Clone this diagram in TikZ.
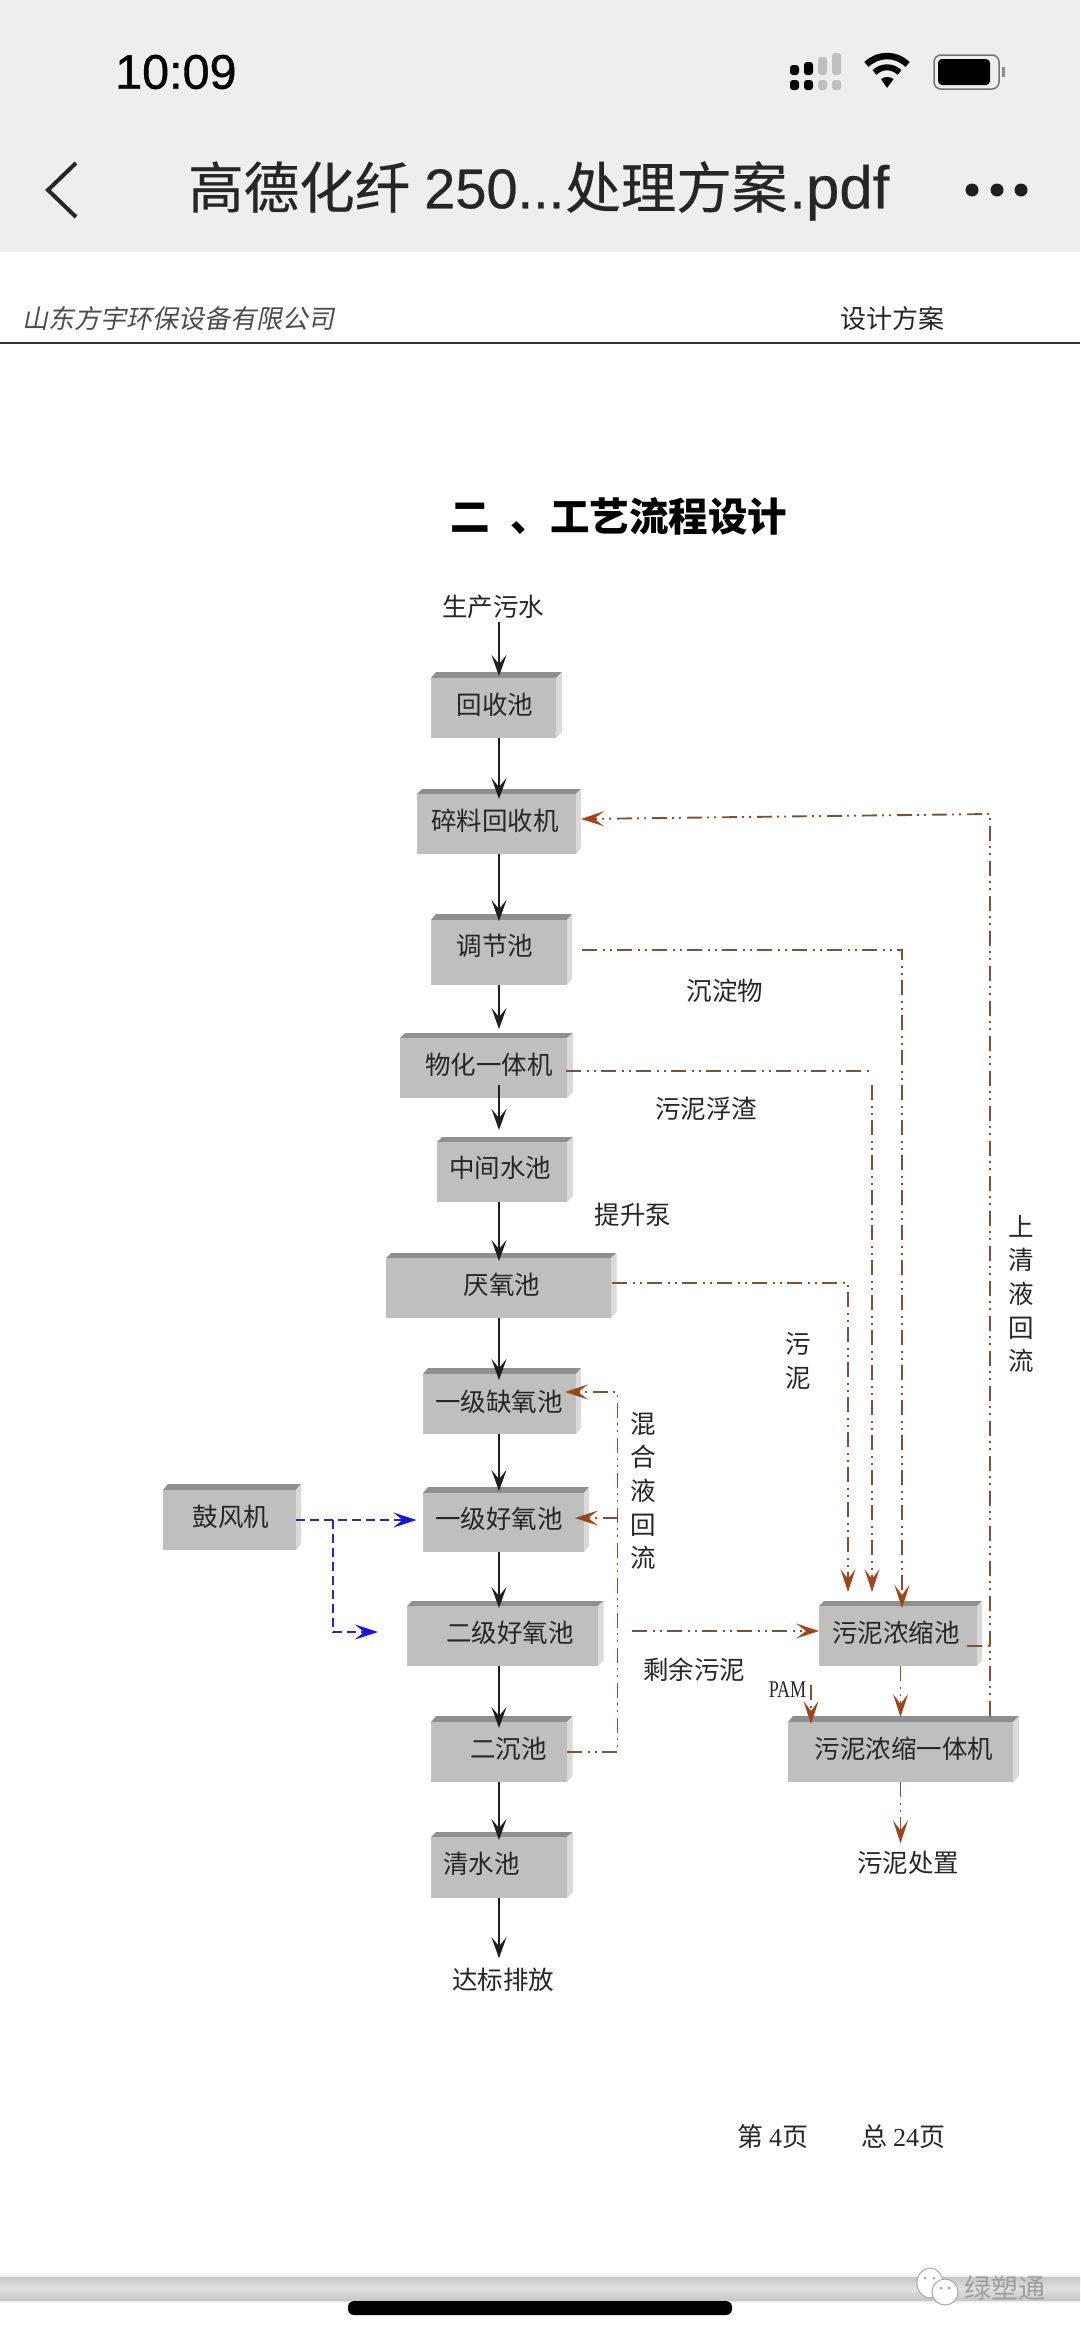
\documentclass[tikz,border=0pt]{standalone}
\usepackage{fontspec}
\usetikzlibrary{arrows.meta,calc}
\setmainfont{Liberation Serif}
\newfontfamily\cjkfont{Noto Sans CJK SC}
\newfontfamily\cjkmedfont[FakeBold=0.4]{Noto Sans CJK SC}
\newfontfamily\cjkslantfont[FakeSlant=0.2]{Noto Sans CJK SC}
\newfontfamily\uifont{Liberation Sans}
\newfontfamily\uimedfont[FakeBold=0.4]{Liberation Sans}
\newfontfamily\clockfont[FakeBold=0.8]{Liberation Sans}
\newfontfamily\pamfont[FakeStretch=0.75]{Liberation Serif}
\definecolor{bandgray}{HTML}{EEEEEE}
\definecolor{inkgray}{HTML}{262626}
\definecolor{frontgray}{HTML}{BFBFBF}
\definecolor{topgray}{HTML}{8F8F8F}
\definecolor{sidegray}{HTML}{DADADA}
\definecolor{brownline}{HTML}{7E5237}
\definecolor{browntip}{HTML}{A0441C}
\definecolor{blueline}{HTML}{2A2AB8}
\definecolor{bluetip}{HTML}{1616E0}
\tikzset{
  tankbox/.style={fill=frontgray,inner sep=0pt,outer sep=0pt,text=inkgray,font={\fontsize{25.5}{30}\selectfont\cjkfont}},
  tanktop/.style={fill=topgray},
  tankside/.style={fill=sidegray},
  plainlabel/.style={inner sep=0pt,outer sep=0pt,text=inkgray,font={\fontsize{25.5}{30}\selectfont\cjkfont}},
  vertlabel/.style={inner sep=0pt,outer sep=0pt,text=inkgray,align=center,font={\fontsize{25.5}{33.7}\selectfont\cjkfont}},
  mainflow/.style={draw=black!88,line width=2pt,-{Stealth[length=21pt,width=15pt,inset=9pt]}},
  brownpath/.style={draw=brownline,line width=1.9pt,dash pattern=on 15pt off 6pt on 2pt off 5pt on 2pt off 5pt},
  brownflow/.style={brownpath,-{Stealth[length=23pt,width=15pt,inset=10pt,color=browntip]}},
  bluepath/.style={draw=blueline,line width=2.2pt,dash pattern=on 9pt off 5pt},
  blueflow/.style={bluepath,-{Stealth[length=23pt,width=15pt,inset=9pt,color=bluetip]}}
}
\newcommand\tank[9]{%
  \fill[tanktop] (#2,#5) -- (#2+5,#3) -- (#7,#3) -- (#4,#5) -- cycle;
  \fill[tankside] (#4,#5) -- (#7,#3) -- (#7,#6-6) -- (#4,#6) -- cycle;
  \def\tname{#1}%
  \pgfmathsetmacro\tw{#4-#2}%
  \pgfmathsetmacro\th{#6-#5}%
  \pgfmathsetmacro\tcx{(#2+#4)/2}%
  \pgfmathsetmacro\tcy{(#5+#6)/2}%
  \pgfmathsetmacro\tdx{2*(#8-\tcx)}%
  \pgfmathsetmacro\tdy{\tcy-#9-9.5}%
  \tankB}
\newcommand\tankB[1]{%
  \node[tankbox,minimum width=\tw pt,minimum height=\th pt] (\tname) at (\tcx,\tcy)
    {\hspace*{\tdx pt}\raisebox{\tdy pt}[0pt][0pt]{#1}};}
\newcommand\mainarrow[3]{\draw[mainflow,shorten >=#3pt] (#1.south -| spine) -- (#2.north -| spine);}
\begin{document}
\begin{tikzpicture}[x=1pt,y=-1pt]
\useasboundingbox (0,0) rectangle (1080,2337);
\fill[white] (0,0) rectangle (1080,2337);
% phone chrome
\fill[bandgray] (0,0) rectangle (1080,252);
\node[anchor=west,inner sep=0pt,font={\fontsize{48.5}{50}\selectfont\clockfont}] (clock) at (115,72) {10:09};
\foreach \xa/\ya/\col in {790/65/black,804/62/black,818/57/black!25,832/53/black!25}{
  \fill[\col,rounded corners=3pt] (\xa,\ya) rectangle (\xa+9,75);
  \fill[\col,rounded corners=3pt] (\xa,80) rectangle (\xa+9,90);
}
\fill[black] (887,88) -- (881,79) arc[start angle=125,end angle=55,radius=11pt] -- cycle;
\draw[black,line width=6pt] (887+12.5,72.5) arc[start angle=45,end angle=135,radius=17.7pt];
\draw[black,line width=6.5pt] (887+20.5,64.5) arc[start angle=45,end angle=135,radius=29pt];
\draw[black!55,line width=1.5pt,rounded corners=7pt] (934,55) rectangle (999,89);
\fill[black,rounded corners=4pt] (938,59) rectangle (990,85);
\fill[black!45] (1002,67) rectangle (1005,77);
\draw[inkgray,line width=4pt] (76,163) -- (48,190) -- (76,217);
\node[anchor=west,inner sep=0pt,text=inkgray,font={\fontsize{55.5}{60}\selectfont\cjkmedfont}] (doc) at (188,191)
  {高德化纤\hspace*{14pt}{\uimedfont\fontsize{56}{60}\selectfont 250...}\hspace*{1pt}处理方案\hspace*{2pt}{\uimedfont\fontsize{60}{60}\selectfont .pdf}};
\foreach \xa in {972,997,1021}{\fill[black!88] (\xa,190) circle[radius=6.5pt];}
% page header
\node[anchor=west,inner sep=0pt,text=black!70,font={\fontsize{26}{30}\selectfont\cjkslantfont}] (company) at (22,319) {山东方宇环保设备有限公司};
\node[anchor=west,inner sep=0pt,text=inkgray,font={\fontsize{26}{30}\selectfont\cjkfont}] (design) at (840,319) {设计方案};
\fill[black!80] (0,341.5) rectangle (1080,344);
\node[anchor=west,inner sep=0pt,text=black,font={\fontsize{39.5}{44}\selectfont\cjkfont\bfseries}] (heading) at (450,517) {二\hspace*{21pt}、工艺流程设计};
% spine
\coordinate (spine) at (499,0);
% tanks
\tank{hs}{431}{672}{556}{678}{738}{562}{495}{705}{回收池}
\tank{sl}{417}{789}{576}{794}{854}{581}{495}{821}{碎料回收机}
\tank{tj}{431}{914}{567}{920}{985}{572}{495}{946}{调节池}
\tank{wh}{400}{1033}{567}{1038}{1098}{573}{489}{1065}{物化一体机}
\tank{zj}{437}{1137}{567}{1142}{1202}{573}{500}{1168}{中间水池}
\tank{yy}{386}{1253}{611}{1258}{1318}{616.5}{502}{1285}{厌氧池}
\tank{qy}{423}{1368}{576}{1374}{1434}{581}{499}{1402}{一级缺氧池}
\tank{hya}{423}{1487}{584}{1493}{1552}{589}{499}{1519}{一级好氧池}
\tank{hyb}{407}{1601}{598}{1606}{1666}{603.5}{510}{1633}{二级好氧池}
\tank{ec}{431}{1716}{567}{1722}{1782}{572.5}{508.5}{1749}{二沉池}
\tank{qs}{431}{1832}{567}{1837}{1898}{573}{481.5}{1864}{清水池}
\tank{gf}{163}{1484}{296}{1490}{1550}{301}{231}{1517}{鼓风机}
\tank{wn}{819}{1601}{977}{1606}{1666}{982}{896}{1633}{污泥浓缩池}
\tank{yt}{788}{1716}{1013}{1722}{1782}{1019}{904}{1749}{污泥浓缩一体机}
% labels
\node[plainlabel] (src) at (493,607) {生产污水};
\node[plainlabel] (out) at (503,1980) {达标排放};
\node[plainlabel] (disp) at (908,1863) {污泥处置};
\node[plainlabel] (lcd) at (725,991) {沉淀物};
\node[plainlabel] (lfz) at (706,1109) {污泥浮渣};
\node[plainlabel] (lpump) at (633,1215) {提升泵};
\node[plainlabel] (lsy) at (694,1670) {剩余污泥};
\node[vertlabel] (lmud) at (798,1361) {污\\泥};
\node[vertlabel] (lmix) at (643,1491) {混\\合\\液\\回\\流};
\node[vertlabel] (lret) at (1021,1294) {上\\清\\液\\回\\流};
\node[inner sep=0pt,text=inkgray,font={\fontsize{24}{28}\selectfont\pamfont}] (pam) at (787.5,1690) {PAM};
\node[anchor=west,inner sep=0pt,text=inkgray,font={\fontsize{26}{30}\selectfont\cjkfont}] (p4) at (737,2137) {第 {\rmfamily 4}页};
\node[anchor=west,inner sep=0pt,text=inkgray,font={\fontsize{26}{30}\selectfont\cjkfont}] (p24) at (861,2137) {总 {\rmfamily 24}页};
% main flow
\draw[mainflow,shorten >=2pt] (spine |- src.south) ++(0,3) -- (hs.north -| spine);
\mainarrow{hs}{sl}{-5}
\mainarrow{sl}{tj}{-1}
\mainarrow{tj}{wh}{9}
\draw[mainflow,shorten >=12pt] ([yshift=13pt]wh.south -| spine) -- (zj.north -| spine);
\mainarrow{zj}{yy}{-3}
\mainarrow{yy}{qy}{-6}
\mainarrow{qy}{hya}{2}
\mainarrow{hya}{hyb}{-2}
\mainarrow{hyb}{ec}{-6}
\mainarrow{ec}{qs}{-3}
\draw[mainflow,shorten >=10pt] (qs.south -| spine) -- (out.north -| spine);
% blue air lines
\coordinate (airsplit) at (333,1520);
\coordinate (aircorner) at (333,1632);
\draw[blueflow] (gf.east) -- ([xshift=-6.5pt,yshift=2.5pt]hya.west);
\draw[blueflow] (airsplit) -- (aircorner) -- ([xshift=-29pt,yshift=4pt]hyb.west);
% brown sludge lines
\coordinate (tjout) at (582,950);
\coordinate (whout) at (566,1071);
\coordinate (whcorner) at (870,1071);
\coordinate (whdown) at (872,1085);
\coordinate (yyout) at (612,1283);
\coordinate (hybout) at (632,1631);
\coordinate (wnstub) at (967,1646);
\coordinate (wnstubend) at (990,1646);
\coordinate (retcorner) at (990,814);
\coordinate (mixtop) at (617.5,1392);
\coordinate (mixbot) at (617.5,1752);
\coordinate (mixmid) at (617.5,1518);
\coordinate (pamout) at (811,1685);
\draw[brownflow] (tjout) -| ([xshift=4pt,yshift=-2pt]wn.north);
\draw[brownpath] (whout) -- (whcorner);
\draw[brownflow] (whdown) -- ([xshift=-26pt,yshift=14pt]wn.north);
\draw[brownflow] (yyout) -| ([xshift=-50pt,yshift=14pt]wn.north);
\draw[brownflow] (hybout) -- ([yshift=5pt]wn.west);
\draw[brownpath] (wnstub) -- (wnstubend);
\draw[brownflow] ([xshift=89.5pt,yshift=6pt]yt.north) -- (retcorner) -- ([xshift=5pt,yshift=5pt]sl.east);
\draw[brownflow] (ec.east) -- (mixbot) -- (mixtop) -- ([xshift=-11pt,yshift=12pt]qy.east);
\draw[brownflow] (mixmid) -- ([xshift=-9pt,yshift=4.5pt]hya.east);
\draw[brownflow] (wn.south -| yt.north) -- ([yshift=5pt]yt.north);
\draw[brownflow,shorten >=8pt] (yt.south) -- (yt.south |- disp.north);
\draw[brownflow] (pamout) -- ([xshift=-89.5pt,yshift=-2pt]yt.north);
% bottom bar
\fill[black!6] (0,2275) rectangle (1080,2303);
\shade[top color=black!22,bottom color=black!22,middle color=black!12] (0,2277) rectangle (1080,2300);
\fill[black,rounded corners=6pt] (348,2301) rectangle (732,2315);
\draw[black!35,fill=white,line width=1pt] (930,2283) ellipse[x radius=13,y radius=15];
\draw[black!35,fill=white,line width=1pt] (945,2292) ellipse[x radius=13,y radius=13];
\fill[black!35] (925,2278) circle[radius=1.5pt] (934,2278) circle[radius=1.5pt] (941,2288) circle[radius=1.5pt] (949,2288) circle[radius=1.5pt];
\node[inner sep=0pt,text=black!38,font={\fontsize{27}{30}\selectfont\cjkfont}] (mark) at (1004.5,2288) {绿塑通};
\end{tikzpicture}
\end{document}
